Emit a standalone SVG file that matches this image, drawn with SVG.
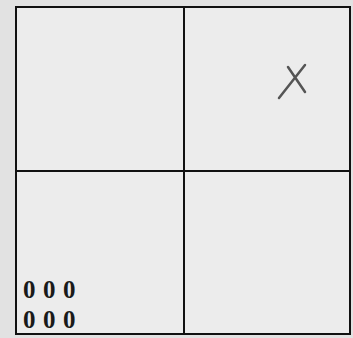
<svg xmlns="http://www.w3.org/2000/svg" width="353" height="338" viewBox="0 0 353 338">
<style>
.cell{fill:#ececec;stroke:#111;stroke-width:2}
.num{font-family:"Liberation Serif",serif;font-size:25px;font-weight:bold;fill:#1a1a1a}
.mark{stroke:#555;stroke-width:2.5;stroke-linecap:round;fill:none}
</style>
<rect width="353" height="338" fill="#e2e2e2"/>
<g id="cell-tl"><rect class="cell" x="16" y="7" width="168" height="164"/></g>
<g id="cell-tr"><rect class="cell" x="184" y="7" width="166" height="164"/>
<path class="mark" d="M305 65 L279 98 M288 67 L305 92"/></g>
<g id="cell-bl"><rect class="cell" x="16" y="171" width="168" height="163"/>
<text class="num" x="23 43 63" y="298">000</text>
<text class="num" x="23 43 63" y="328">000</text></g>
<g id="cell-br"><rect class="cell" x="184" y="171" width="166" height="163"/></g>
<g id="connectors"></g>
</svg>
